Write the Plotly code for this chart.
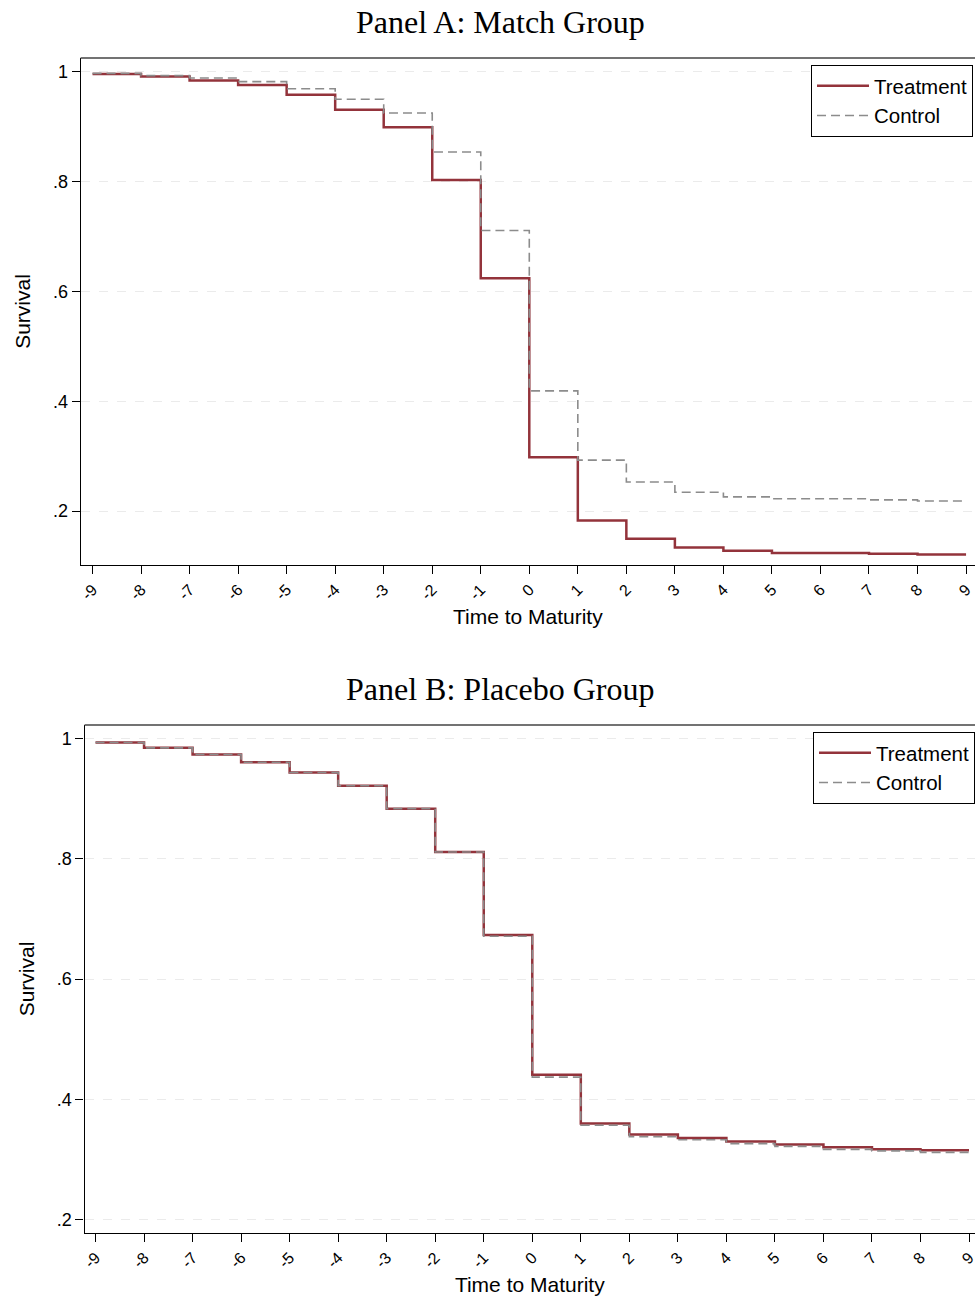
import plotly.graph_objects as go

# ---- data ----
time_points = [-9, -8, -7, -6, -5, -4, -3, -2, -1, 0, 1, 2, 3, 4, 5, 6, 7, 8]
tick_vals = list(range(-9, 10))
tick_text = [str(v) for v in tick_vals]
y_tick_vals = [0.2, 0.4, 0.6, 0.8, 1.0]
y_tick_text = [".2", ".4", ".6", ".8", "1"]

a_treatment = [0.996, 0.9915, 0.984, 0.976, 0.958, 0.931, 0.899, 0.803, 0.624,
               0.298, 0.183, 0.150, 0.134, 0.128, 0.124, 0.124, 0.1225, 0.121]
a_control = [0.997, 0.993, 0.9885, 0.982, 0.969, 0.950, 0.925, 0.854, 0.711,
             0.419, 0.293, 0.253, 0.2345, 0.226, 0.2225, 0.2225, 0.2205, 0.2185]
b_treatment = [0.993, 0.984, 0.973, 0.960, 0.943, 0.921, 0.883, 0.811, 0.673,
               0.441, 0.360, 0.3415, 0.336, 0.330, 0.325, 0.3205, 0.317, 0.3155]
b_control = [0.993, 0.984, 0.973, 0.960, 0.943, 0.921, 0.883, 0.811, 0.671,
             0.437, 0.357, 0.338, 0.333, 0.3265, 0.322, 0.317, 0.3145, 0.312]

RED = "#93333B"
GRAY = "#8C8C8C"
SANS = "Liberation Sans, Arial, sans-serif"
SERIF = "Liberation Serif, Times New Roman, serif"


def step(vals):
    xs = time_points + [9]
    ys = vals + [vals[-1]]
    return xs, ys


fig = go.Figure()

for xa, ya, leg, tr, co in [("x", "y", "legend", a_treatment, a_control),
                             ("x2", "y2", "legend2", b_treatment, b_control)]:
    xs, ys = step(tr)
    fig.add_trace(go.Scatter(x=xs, y=ys, mode="lines", line_shape="hv",
                             line=dict(color=RED, width=2.5), name="Treatment",
                             xaxis=xa, yaxis=ya, legend=leg))
    xs, ys = step(co)
    fig.add_trace(go.Scatter(x=xs, y=ys, mode="lines", line_shape="hv",
                             line=dict(color=GRAY, width=1.6, dash="9px,5px"), name="Control",
                             xaxis=xa, yaxis=ya, legend=leg))

xcommon = dict(tickmode="array", tickvals=tick_vals, ticktext=tick_text, tickangle=-45,
               ticks="outside", ticklen=8, tickwidth=1, tickcolor="#000",
               showline=True, linecolor="#000", linewidth=1.2, mirror=False,
               showgrid=False, zeroline=False, ticklabeloverflow="allow",
               tickfont=dict(family=SANS, size=16, color="#000"),
               title=dict(text="Time to Maturity", font=dict(family=SANS, size=21, color="#000"), standoff=7))
ycommon = dict(tickmode="array", tickvals=y_tick_vals, ticktext=y_tick_text,
               ticks="outside", ticklen=8, tickwidth=1, tickcolor="#000",
               showline=True, linecolor="#000", linewidth=1.2,
               showgrid=True, gridcolor="#EBEBEB", gridwidth=1, griddash="dash",
               zeroline=False,
               tickfont=dict(family=SANS, size=18, color="#000"),
               title=dict(text="Survival", font=dict(family=SANS, size=21, color="#000"), standoff=16))

W, H = 977, 1298
fig.update_layout(
    width=W, height=H, margin=dict(l=0, r=0, t=0, b=0),
    plot_bgcolor="white", paper_bgcolor="white", showlegend=True,
    xaxis=dict(domain=[78 / W, 1.0], range=[-9.246, 9.1845], anchor="y", **xcommon),
    yaxis=dict(domain=[1 - 565 / H, 1 - 58 / H], range=[0.102, 1.025], anchor="x", **ycommon),
    xaxis2=dict(domain=[82 / W, 1.0], range=[-9.2255, 9.123], anchor="y2", **xcommon),
    yaxis2=dict(domain=[1 - 1233 / H, 1 - 725 / H], range=[0.178, 1.022], anchor="x2", **ycommon),
    legend=dict(x=975 / W, xanchor="right", y=1 - 65 / H, yanchor="top",
                bordercolor="#000", borderwidth=1, bgcolor="white", itemwidth=52,
                font=dict(family=SANS, size=20.5, color="#000"), tracegroupgap=0),
    legend2=dict(x=977 / W, xanchor="right", y=1 - 732 / H, yanchor="top",
                 bordercolor="#000", borderwidth=1, bgcolor="white", itemwidth=52,
                 font=dict(family=SANS, size=20.5, color="#000"), tracegroupgap=0),
)

# top frame lines of each plot region
for yv, x0 in [(1 - 58 / H, 78 / W), (1 - 725 / H, 82 / W)]:
    fig.add_shape(type="line", xref="paper", yref="paper", x0=x0, x1=1.0, y0=yv, y1=yv,
                  line=dict(color="#444", width=1.5))

fig.add_annotation(text="Panel A: Match Group", xref="paper", yref="paper",
                   x=500 / W, y=1 - 22 / H, xanchor="center", yanchor="middle",
                   showarrow=False, font=dict(family=SERIF, size=32, color="#000"))
fig.add_annotation(text="Panel B: Placebo Group", xref="paper", yref="paper",
                   x=500 / W, y=1 - 689 / H, xanchor="center", yanchor="middle",
                   showarrow=False, font=dict(family=SERIF, size=32, color="#000"))

fig.write_html("out.html")
